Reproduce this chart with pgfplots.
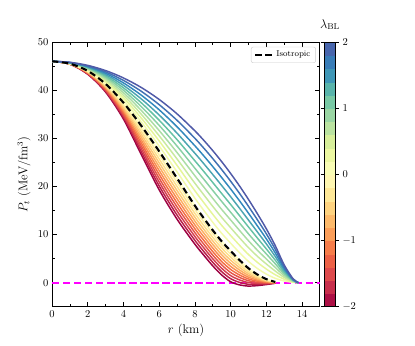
\documentclass[border=0pt]{standalone}
\usepackage{pgfplots}
\pgfplotsset{compat=1.18}
\usepackage{pgfplotstable}

% Spectral, red (low) to blue (high)
\pgfplotsset{colormap={spectral}{rgb255=(158,1,66) rgb255=(213,62,79) rgb255=(244,109,67) rgb255=(253,174,97) rgb255=(254,224,139) rgb255=(255,255,191) rgb255=(230,245,152) rgb255=(171,221,164) rgb255=(102,194,165) rgb255=(50,136,189) rgb255=(80,90,168)}}
\definecolor{mag}{RGB}{255,0,255}

% tangential pressure P_t(r); columns m10..m1 : lambda=-2..-0.2, z : lambda=0, p1..p10 : lambda=0.2..2
\pgfplotstableread{
r m10 m9 m8 m7 m6 m5 m4 m3 m2 m1 z p1 p2 p3 p4 p5 p6 p7 p8 p9 p10
0 46.0 46.0 46.0 46.0 46.0 46.0 46.0 46.0 46.0 46.0 46.0 46.0 46.0 46.0 46.0 46.0 46.0 46.0 46.0 46.0 46.0
1 45.40 45.41 45.42 45.43 45.44 45.45 45.46 45.47 45.48 45.49 45.50 45.53 45.56 45.59 45.62 45.65 45.67 45.70 45.73 45.76 45.79
2 43.30 43.37 43.44 43.51 43.58 43.65 43.72 43.79 43.86 43.93 44.00 44.12 44.23 44.35 44.46 44.58 44.69 44.81 44.92 45.04 45.15
3 39.60 39.77 39.94 40.11 40.28 40.45 40.62 40.79 40.96 41.13 41.30 41.58 41.85 42.13 42.41 42.69 42.96 43.24 43.52 43.79 44.07
4 34.00 34.34 34.68 35.02 35.36 35.70 36.04 36.38 36.72 37.06 37.40 37.91 38.43 38.94 39.46 39.97 40.48 41.00 41.51 42.03 42.54
5 26.60 27.20 27.80 28.40 29.00 29.60 30.20 30.80 31.40 32.00 32.60 33.40 34.19 34.99 35.78 36.58 37.37 38.17 38.96 39.76 40.55
6 19.30 20.10 20.90 21.70 22.50 23.30 24.10 24.90 25.70 26.50 27.30 28.38 29.45 30.53 31.61 32.69 33.76 34.84 35.92 36.99 38.07
7 13.20 14.05 14.90 15.75 16.60 17.45 18.30 19.15 20.00 20.85 21.70 23.04 24.38 25.71 27.05 28.39 29.73 31.07 32.40 33.74 35.08
8 8.00 8.80 9.60 10.40 11.20 12.00 12.80 13.60 14.40 15.20 16.00 17.56 19.11 20.67 22.22 23.78 25.33 26.89 28.44 30.00 31.55
8.5 5.70 6.47 7.24 8.01 8.78 9.55 10.32 11.09 11.86 12.63 13.40 15.02 16.63 18.25 19.87 21.49 23.10 24.72 26.34 27.95 29.57
9 3.50 4.24 4.98 5.72 6.46 7.20 7.94 8.68 9.42 10.16 10.90 12.55 14.21 15.86 17.52 19.17 20.82 22.48 24.13 25.79 27.44
9.5 1.60 2.30 3.00 3.70 4.40 5.10 5.80 6.50 7.20 7.90 8.60 10.26 11.91 13.57 15.22 16.88 18.53 20.19 21.84 23.50 25.15
10 0.20 0.84 1.48 2.12 2.76 3.40 4.04 4.68 5.32 5.96 6.60 8.21 9.82 11.43 13.04 14.65 16.26 17.87 19.48 21.09 22.70
10.5 -0.45 0.07 0.58 1.10 1.61 2.13 2.64 3.16 3.67 4.19 4.70 6.24 7.78 9.32 10.86 12.40 13.93 15.47 17.01 18.55 20.09
11 -0.70 -0.33 0.04 0.41 0.78 1.15 1.52 1.89 2.26 2.63 3.00 4.43 5.86 7.29 8.72 10.15 11.58 13.01 14.44 15.87 17.30
11.5 -0.60 -0.37 -0.14 0.09 0.32 0.55 0.78 1.01 1.24 1.47 1.70 2.96 4.23 5.49 6.75 8.02 9.28 10.54 11.80 13.07 14.33
12 -0.38 -0.27 -0.15 -0.04 0.07 0.19 0.30 0.41 0.52 0.64 0.75 1.80 2.84 3.89 4.93 5.98 7.02 8.07 9.11 10.16 11.20
12.5 -0.10 -0.08 -0.05 -0.03 0.00 0.03 0.05 0.08 0.10 0.13 0.15 0.91 1.66 2.42 3.17 3.93 4.68 5.44 6.19 6.95 7.70
13 nan nan nan nan nan nan nan nan nan nan nan 0.37 0.74 1.11 1.48 1.85 2.22 2.59 2.96 3.33 3.70
13.5 nan nan nan nan nan nan nan nan nan nan nan 0.08 0.16 0.24 0.32 0.40 0.48 0.56 0.64 0.72 0.80
13.8 nan nan nan nan nan nan nan nan nan nan nan 0 0 0 0 0 0 0 0 0 0
}\ptdata

\begin{document}
\begin{tikzpicture}
\begin{axis}[
  name=ax,
  scale only axis,
  width=255pt, height=252pt,
  xmin=0, xmax=15, ymin=-5, ymax=50,
  xtick={0,2,...,14}, minor x tick num=1,
  ytick={0,10,...,50}, minor y tick num=1,
  tick align=inside,
  xtick pos=both, ytick pos=both,
  major tick length=5pt, minor tick length=3pt,
  every tick/.style={black, line width=0.7pt},
  axis line style={line width=0.9pt},
  xlabel={$r$ (km)}, ylabel={$P_t$ (MeV/fm$^3$)},
  label style={font=\large},
  point meta min=-2, point meta max=2,
  colormap name=spectral,
  colorbar sampled,
  colorbar shift/.style={},
  colorbar style={
    at={(parent axis.north east)}, anchor=north west, xshift=4.5pt,
    width=10pt,
    samples=21,
    ytick={-2,-1,0,1,2},
    tick align=outside,
    major tick length=3.5pt,
    every tick/.style={black, line width=0.7pt},
    axis line style={line width=0.7pt},
    title={$\lambda_{\mathrm{BL}}$},
    title style={font=\large, yshift=2pt},
  },
  legend style={at={(0.985,0.982)}, anchor=north east, font=\footnotesize,
    draw=black!20, rounded corners=2pt},
  legend cell align=left,
  curve/.style={smooth, line width=1.4pt, forget plot, color of colormap={#1}},
]
\addplot[mag, line width=1.5pt, dash pattern=on 7pt off 3.5pt, forget plot] coordinates {(0,0) (15,0)};

\addplot[curve=0]    table[x=r, y=m10] {\ptdata};
\addplot[curve=50]   table[x=r, y=m9]  {\ptdata};
\addplot[curve=100]  table[x=r, y=m8]  {\ptdata};
\addplot[curve=150]  table[x=r, y=m7]  {\ptdata};
\addplot[curve=200]  table[x=r, y=m6]  {\ptdata};
\addplot[curve=250]  table[x=r, y=m5]  {\ptdata};
\addplot[curve=300]  table[x=r, y=m4]  {\ptdata};
\addplot[curve=350]  table[x=r, y=m3]  {\ptdata};
\addplot[curve=400]  table[x=r, y=m2]  {\ptdata};
\addplot[curve=450]  table[x=r, y=m1]  {\ptdata};
\addplot[curve=500]  table[x=r, y=z]   {\ptdata};
\addplot[curve=550]  table[x=r, y=p1]  {\ptdata};
\addplot[curve=600]  table[x=r, y=p2]  {\ptdata};
\addplot[curve=650]  table[x=r, y=p3]  {\ptdata};
\addplot[curve=700]  table[x=r, y=p4]  {\ptdata};
\addplot[curve=750]  table[x=r, y=p5]  {\ptdata};
\addplot[curve=800]  table[x=r, y=p6]  {\ptdata};
\addplot[curve=850]  table[x=r, y=p7]  {\ptdata};
\addplot[curve=900]  table[x=r, y=p8]  {\ptdata};
\addplot[curve=950]  table[x=r, y=p9]  {\ptdata};
\addplot[curve=1000] table[x=r, y=p10] {\ptdata};

\addplot[black, line width=2pt, dash pattern=on 6pt off 3.5pt, smooth] table[x=r, y=z] {\ptdata};
\addlegendentry{Isotropic}
\end{axis}
\path ([shift={(-49.5pt,-37pt)}]ax.south west) rectangle ([shift={(90.5pt,40pt)}]ax.north east);
\end{tikzpicture}
\end{document}
